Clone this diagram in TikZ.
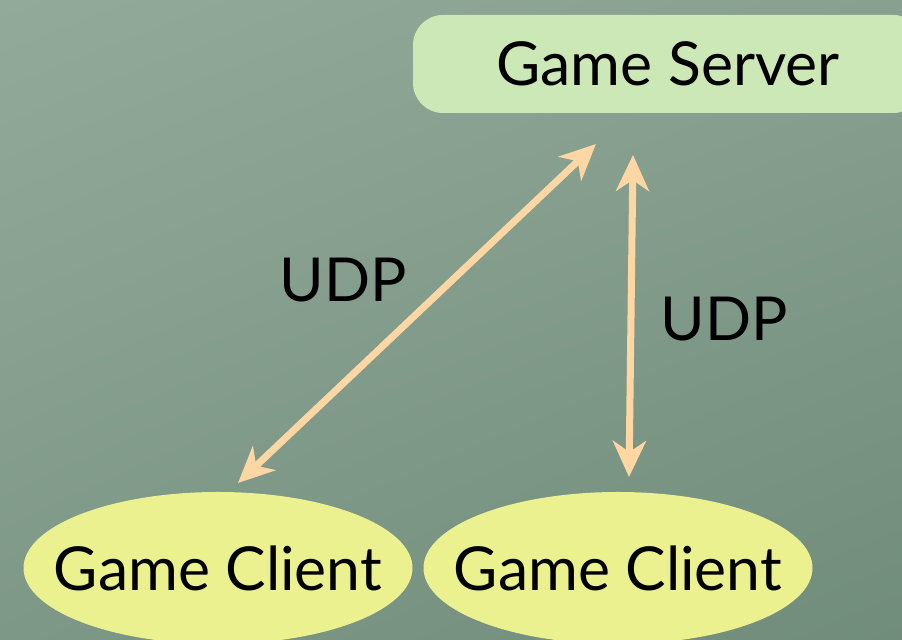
\documentclass[tikz,border=0pt]{standalone}
\usepackage{fontspec}
\setmainfont{Lato}
\usetikzlibrary{arrows.meta,shapes.geometric,shadings}
\definecolor{bgtl}{RGB}{146,170,154}
\definecolor{bgtr}{RGB}{136,160,144}
\definecolor{bgbl}{RGB}{126,152,136}
\definecolor{bgbr}{RGB}{112,140,122}
\definecolor{serverfill}{RGB}{205,232,183}
\definecolor{clientfill}{RGB}{235,241,143}
\definecolor{linkcolor}{RGB}{252,215,163}
\tikzset{
  server/.style={rectangle, rounded corners=0.6cm, fill=serverfill, minimum width=10.2cm, minimum height=1.96cm, font=\fontsize{34.5}{40}\selectfont},
  client/.style={ellipse, fill=clientfill, inner xsep=-1cm, inner ysep=0pt, minimum width=7.78cm, minimum height=3.04cm, font=\fontsize{34.5}{40}\selectfont},
  udp/.style={font=\fontsize{34.5}{40}\selectfont},
  link/.style={draw=linkcolor, line width=4pt, <->, >={Stealth[length=0.72cm,width=0.66cm,inset=0.22cm]}}
}

\begin{document}
\begin{tikzpicture}
\useasboundingbox (0.000,0.000) rectangle (18.040,12.800);
\clip (0.000,0.000) rectangle (18.040,12.800);
\shade[upper left=bgtl, upper right=bgtr, lower left=bgbl, lower right=bgbr] (0.000,0.000) rectangle (18.040,12.800);
\node[server] (server) at (13.360,11.520) {Game Server};
\node[client] (clientA) at (4.360,1.440) {Game Client};
\node[client] (clientB) at (12.360,1.440) {Game Client};
\coordinate (clientAtip) at (4.760,3.140);
\coordinate (serverAtip) at (11.920,9.920);
\coordinate (clientBtip) at (12.580,3.260);
\coordinate (serverBtip) at (12.660,9.700);
\draw[link] (clientAtip) -- (serverAtip);
\draw[link] (clientBtip) -- (serverBtip);
\node[udp] (udpA) at (6.860,7.200) {UDP};
\node[udp] (udpB) at (14.480,6.420) {UDP};
\end{tikzpicture}
\end{document}
